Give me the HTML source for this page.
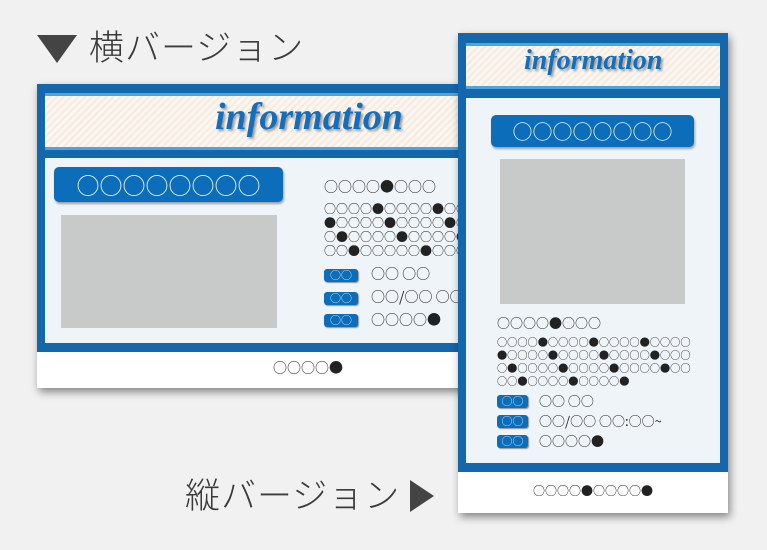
<!DOCTYPE html>
<html><head><meta charset="utf-8"><style>
*{margin:0;padding:0;box-sizing:border-box}
body{width:767px;height:550px;background:#f1f1f1;position:relative;overflow:hidden;font-family:"Liberation Sans","Noto Sans CJK JP",sans-serif}
.a{position:absolute}
.lab{color:#3a3a3a;font-size:35px;font-weight:300;white-space:nowrap;line-height:1;font-family:"Noto Sans CJK JP",sans-serif}
.card{background:#1467ab;box-shadow:2px 4px 8px rgba(0,0,0,.45)}
.hdr{background:repeating-linear-gradient(135deg,#fbf6ef 0 3px,#f5ebe0 3px 5px);border-top:3px solid #4aa6de;border-bottom:3px solid #4aa6de}
.info{font-family:"Liberation Serif",serif;font-style:italic;font-weight:bold;color:#136fbd;text-shadow:2px 2px 2px rgba(0,0,0,.35);white-space:nowrap;line-height:1}
.panel{background:#eff4f9}
.btn{background:#0c6dba;border-radius:5px;box-shadow:1px 2px 2px rgba(0,0,0,.35);color:#e8f2fb;text-align:center;white-space:nowrap;line-height:1}
.gray{background:#c8c9c9}
.t{color:#222;white-space:nowrap;line-height:1;font-family:"Noto Sans CJK JP",sans-serif}
.tag{background:#0c6dba;border-radius:3px;box-shadow:1px 1px 1px rgba(0,0,0,.4);color:#cfe3f5;font-size:11px;text-align:center;line-height:13px;font-family:"Noto Sans CJK JP",sans-serif}
.foot{background:#fff}
</style></head><body>

<div class="a" style="left:37px;top:35px;width:0;height:0;border-left:20px solid transparent;border-right:20px solid transparent;border-top:28px solid #444"></div>
<div class="a lab" style="left:89px;top:28px;letter-spacing:1px">横バージョン</div>

<!-- horizontal card -->
<div class="a card" style="left:37px;top:84px;width:440px;height:304px"></div>
<div class="a hdr" style="left:45px;top:93px;width:430px;height:57px"></div>
<div class="a info" style="left:215px;top:98px;font-size:38px">information</div>
<div class="a panel" style="left:45px;top:158px;width:430px;height:185px"></div>
<div class="a btn" style="left:54px;top:167px;width:229px;height:35px;font-size:23px;line-height:35px;font-family:'Noto Sans CJK JP',sans-serif">○○○○○○○○</div>
<div class="a gray" style="left:61px;top:215px;width:216px;height:113px"></div>
<div class="a t" style="left:324px;top:180px;font-size:14px">○○○○●○○○</div>
<div class="a t" style="left:324px;top:202px;font-size:12px;line-height:14px">○○○○●○○○○●○○<br>●○○○○●○○○○●○<br>○●○○○○●○○○○●<br>○○●○○○○○●○○○○</div>
<div class="a tag" style="left:324px;top:269px;width:34px">○○</div>
<div class="a tag" style="left:324px;top:292px;width:34px">○○</div>
<div class="a tag" style="left:324px;top:314px;width:34px">○○</div>
<div class="a t" style="left:371px;top:267px;font-size:14px">○○ ○○</div>
<div class="a t" style="left:371px;top:290px;font-size:14px">○○/○○ ○○</div>
<div class="a t" style="left:371px;top:313px;font-size:14px">○○○○●</div>
<div class="a foot" style="left:37px;top:352px;width:440px;height:36px"></div>
<div class="a t" style="left:273px;top:361px;font-size:14px">○○○○●</div>

<!-- vertical card -->
<div class="a card" style="left:458px;top:33px;width:270px;height:480px"></div>
<div class="a hdr" style="left:466px;top:43px;width:254px;height:46px"></div>
<div class="a info" style="left:524px;top:47px;font-size:28px">information</div>
<div class="a panel" style="left:466px;top:98px;width:254px;height:365px"></div>
<div class="a btn" style="left:491px;top:115px;width:203px;height:32px;font-size:20px;line-height:32px;font-family:'Noto Sans CJK JP',sans-serif">○○○○○○○○</div>
<div class="a gray" style="left:500px;top:159px;width:185px;height:145px"></div>
<div class="a t" style="left:497px;top:316px;font-size:13px">○○○○●○○○</div>
<div class="a t" style="left:497px;top:335px;font-size:10.2px;line-height:13px">○○○○●○○○○●○○○○●○○○○<br>●○○○○●○○○○●○○○○●○○○<br>○●○○○○●○○○○●○○○○●○○<br>○○●○○○○●○○○○●</div>
<div class="a tag" style="left:497px;top:395px;width:31px">○○</div>
<div class="a tag" style="left:497px;top:415px;width:31px">○○</div>
<div class="a tag" style="left:497px;top:435px;width:31px">○○</div>
<div class="a t" style="left:539px;top:394px;font-size:13px">○○ ○○</div>
<div class="a t" style="left:539px;top:414px;font-size:13px">○○/○○ ○○:○○~</div>
<div class="a t" style="left:539px;top:434px;font-size:13px">○○○○●</div>
<div class="a foot" style="left:458px;top:472px;width:270px;height:41px"></div>
<div class="a t" style="left:533px;top:485px;font-size:12px">○○○○●○○○○●</div>

<div class="a lab" style="left:185px;top:476px;letter-spacing:1px">縦バージョン</div>
<div class="a" style="left:410px;top:480px;width:0;height:0;border-top:16px solid transparent;border-bottom:16px solid transparent;border-left:24px solid #444"></div>
</body></html>
